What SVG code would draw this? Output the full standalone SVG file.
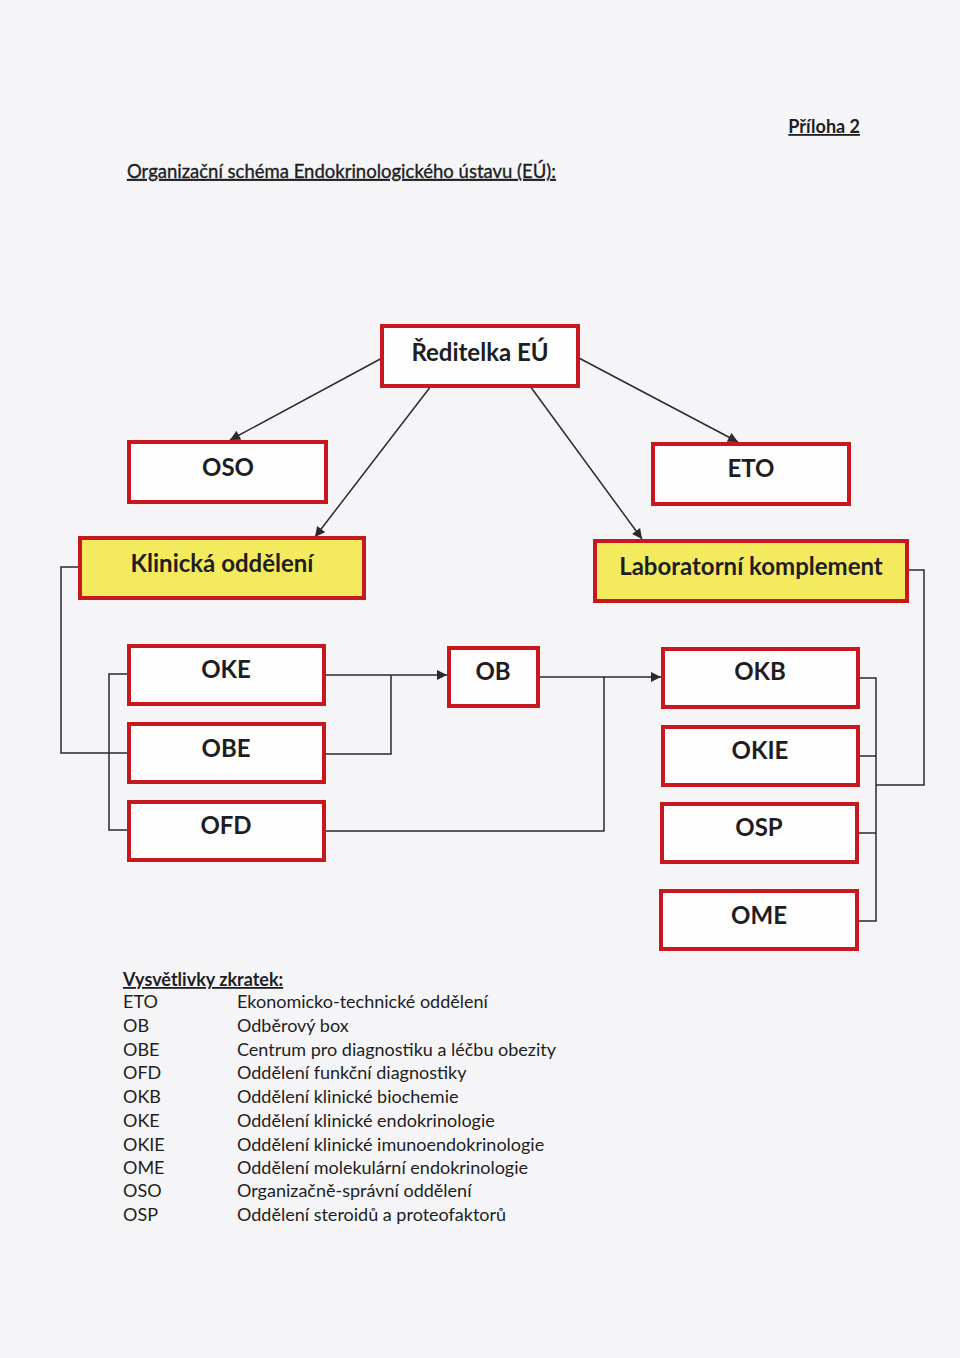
<svg xmlns="http://www.w3.org/2000/svg" width="960" height="1358" viewBox="0 0 960 1358">
<style>
.box{fill:#fdfdfd;stroke:#c8181f;stroke-width:4}
.ybox{fill:#f4ea5e;stroke:#c8181f;stroke-width:4}
.lbl{font-family:Lato,"Open Sans",sans-serif;font-weight:bold;font-size:24px;fill:#1e1e22;text-anchor:middle}
.con{fill:none;stroke:#2a2a2e;stroke-width:1.5}
.txt{font-family:Lato,"Open Sans",sans-serif;font-size:18px;fill:#1e1e22}
.hd{font-family:Lato,"Open Sans",sans-serif;font-size:18px;font-weight:bold;fill:#1e1e22;text-decoration:underline}
.ti{font-family:Lato,"Open Sans",sans-serif;font-size:18.5px;fill:#1e1e22;text-decoration:underline;stroke:#1e1e22;stroke-width:0.35}
</style>
<defs>
<marker id="ah" viewBox="0 0 10 10" refX="10" refY="5" markerWidth="11" markerHeight="10" markerUnits="userSpaceOnUse" orient="auto">
<path d="M0,0 L10,5 L0,10 z" fill="#2a2a2e"/>
</marker>
</defs>
<rect x="0" y="0" width="960" height="1358" fill="#f5f5f8"/>
<text class="hd" x="860" y="133" text-anchor="end">Příloha 2</text>
<text class="ti" x="127" y="178">Organizační schéma Endokrinologického ústavu (EÚ):</text>

<g id="connectors">
<line class="con" x1="384" y1="357" x2="230" y2="440" marker-end="url(#ah)"/>
<line class="con" x1="431" y1="386" x2="315" y2="537" marker-end="url(#ah)"/>
<line class="con" x1="577" y1="357" x2="738" y2="442" marker-end="url(#ah)"/>
<line class="con" x1="530" y1="386" x2="642" y2="539" marker-end="url(#ah)"/>
<polyline class="con" points="80,567 61,567 61,753 128,753"/>
<polyline class="con" points="128,674 109,674 109,830 128,830"/>
<polyline class="con" points="324,754 391,754 391,675"/>
<polyline class="con" points="324,675 447,675" marker-end="url(#ah)"/>
<polyline class="con" points="324,831 604,831 604,677"/>
<polyline class="con" points="538,677 661,677" marker-end="url(#ah)"/>
<polyline class="con" points="908,570 924,570 924,785 876,785"/>
<polyline class="con" points="858,678 876,678 876,921 857,921"/>
<line class="con" x1="858" y1="756" x2="876" y2="756"/>
<line class="con" x1="858" y1="833" x2="876" y2="833"/>
</g>

<g id="reditelka"><rect class="box" x="382" y="326" width="196" height="60"/><text class="lbl" x="480" y="361">Ředitelka EÚ</text></g>
<g id="oso"><rect class="box" x="129" y="442" width="197" height="60"/><text class="lbl" x="228" y="476">OSO</text></g>
<g id="eto"><rect class="box" x="653" y="444" width="196" height="60"/><text class="lbl" x="751" y="477">ETO</text></g>
<g id="klinicka"><rect class="ybox" x="80" y="538" width="284" height="60"/><text class="lbl" x="222" y="572">Klinická oddělení</text></g>
<g id="laboratorni"><rect class="ybox" x="595" y="541" width="312" height="60"/><text class="lbl" x="751" y="575">Laboratorní komplement</text></g>
<g id="oke"><rect class="box" x="129" y="646" width="195" height="58"/><text class="lbl" x="226" y="678">OKE</text></g>
<g id="obe"><rect class="box" x="129" y="724" width="195" height="58"/><text class="lbl" x="226" y="757">OBE</text></g>
<g id="ofd"><rect class="box" x="129" y="802" width="195" height="58"/><text class="lbl" x="226" y="834">OFD</text></g>
<g id="ob"><rect class="box" x="449" y="648" width="89" height="58"/><text class="lbl" x="493" y="680">OB</text></g>
<g id="okb"><rect class="box" x="663" y="649" width="195" height="58"/><text class="lbl" x="760" y="680">OKB</text></g>
<g id="okie"><rect class="box" x="663" y="727" width="195" height="58"/><text class="lbl" x="760" y="759">OKIE</text></g>
<g id="osp"><rect class="box" x="662" y="804" width="195" height="58"/><text class="lbl" x="759" y="836">OSP</text></g>
<g id="ome"><rect class="box" x="661" y="891" width="196" height="58"/><text class="lbl" x="759" y="924">OME</text></g>

<g id="legend">
<text class="hd" x="123" y="986">Vysvětlivky zkratek:</text>
<text class="txt" x="123" y="1008">ETO</text><text class="txt" x="237" y="1008">Ekonomicko-technické oddělení</text>
<text class="txt" x="123" y="1032">OB</text><text class="txt" x="237" y="1032">Odběrový box</text>
<text class="txt" x="123" y="1056">OBE</text><text class="txt" x="237" y="1056">Centrum pro diagnostiku a léčbu obezity</text>
<text class="txt" x="123" y="1079">OFD</text><text class="txt" x="237" y="1079">Oddělení funkční diagnostiky</text>
<text class="txt" x="123" y="1103">OKB</text><text class="txt" x="237" y="1103">Oddělení klinické biochemie</text>
<text class="txt" x="123" y="1127">OKE</text><text class="txt" x="237" y="1127">Oddělení klinické endokrinologie</text>
<text class="txt" x="123" y="1151">OKIE</text><text class="txt" x="237" y="1151">Oddělení klinické imunoendokrinologie</text>
<text class="txt" x="123" y="1174">OME</text><text class="txt" x="237" y="1174">Oddělení molekulární endokrinologie</text>
<text class="txt" x="123" y="1197">OSO</text><text class="txt" x="237" y="1197">Organizačně-správní oddělení</text>
<text class="txt" x="123" y="1221">OSP</text><text class="txt" x="237" y="1221">Oddělení steroidů a proteofaktorů</text>
</g>
</svg>
